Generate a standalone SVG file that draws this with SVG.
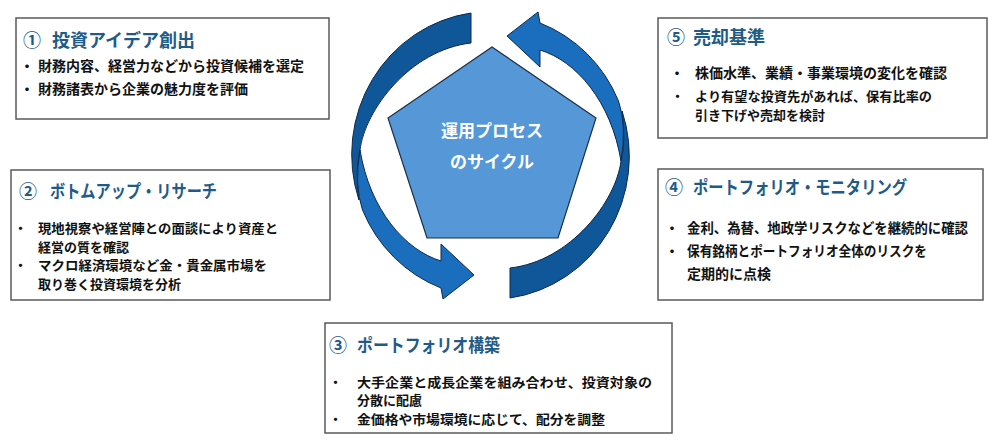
<svg xmlns="http://www.w3.org/2000/svg" xmlns:xlink="http://www.w3.org/1999/xlink" width="1000" height="444" viewBox="0 0 1000 444">
<style>
.box{fill:#fff;stroke:#5a5a5a;stroke-width:1.5}
.t{font-family:"Noto Sans CJK JP","Noto Sans CJK SC",sans-serif;font-weight:bold;font-size:18px;fill:#1f5b87}
.b{font-family:"Noto Sans CJK JP","Noto Sans CJK SC",sans-serif;font-weight:bold;font-size:14px;fill:#111}
.s{font-size:13px}
.c{font-family:"Noto Sans CJK JP","Noto Sans CJK SC",sans-serif;font-weight:bold;font-size:17px;fill:#fff;text-anchor:middle}
.dk{fill:#0f5799;stroke:#0c2a48;stroke-width:1}
.br{fill:#1b6ebd;stroke:#0c2a48;stroke-width:1}
</style>
<defs>
<g id="arrowShape">
<path class="dk" d="M471,13 A139 143 0 0 0 358.9,200 Q355,170 360,150 C365,110 410,50 471,43 Z"/>
<path class="br" d="M360,150 Q354,185 362.5,210 A139 143 0 0 0 441,288 L443,299 L474,275 L441,244 L441,261 C405,250 370,210 360,150 Z"/>
</g>
</defs>
<g id="connectors">
<use xlink:href="#arrowShape" href="#arrowShape"/>
<use xlink:href="#arrowShape" href="#arrowShape" transform="rotate(180 490.5 155.5)"/>
</g>
<g id="center">
<polygon points="492,47 596,118 558,238 427,238 388,118" fill="#5597d7" stroke="#1b2f45" stroke-width="1.2"/>
<text class="c" x="492" y="137">運用プロセス</text>
<text class="c" x="492" y="168">のサイクル</text>
</g>
<g id="node1">
<rect class="box" x="16" y="18" width="313" height="101"/>
<text class="t" x="23" y="47">①</text>
<text class="t" x="52" y="47" textLength="143" lengthAdjust="spacingAndGlyphs">投資アイデア創出</text>
<text class="b" x="20" y="71">・</text>
<text class="b" x="38" y="71">財務内容、経営力などから投資候補を選定</text>
<text class="b" x="20" y="94">・</text>
<text class="b" x="38" y="94">財務諸表から企業の魅力度を評価</text>
</g>
<g id="node2">
<rect class="box" x="11" y="170" width="319" height="130"/>
<text class="t" x="19" y="198">②</text>
<text class="t" x="50" y="198" textLength="167" lengthAdjust="spacingAndGlyphs">ボトムアップ・リサーチ</text>
<text class="b s" x="14" y="233">・</text>
<text class="b s" x="38" y="233" textLength="240" lengthAdjust="spacingAndGlyphs">現地視察や経営陣との面談により資産と</text>
<text class="b s" x="38" y="252">経営の質を確認</text>
<text class="b s" x="14" y="270">・</text>
<text class="b s" x="38" y="270" textLength="229" lengthAdjust="spacingAndGlyphs">マクロ経済環境など金・貴金属市場を</text>
<text class="b s" x="38" y="289">取り巻く投資環境を分析</text>
</g>
<g id="node3">
<rect class="box" x="325" y="323" width="347" height="110"/>
<text class="t" x="329" y="352">③</text>
<text class="t" x="357" y="352" textLength="143" lengthAdjust="spacingAndGlyphs">ポートフォリオ構築</text>
<text class="b s" x="329" y="387">・</text>
<text class="b s" x="357" y="387" textLength="295" lengthAdjust="spacingAndGlyphs">大手企業と成長企業を組み合わせ、投資対象の</text>
<text class="b s" x="357" y="405">分散に配慮</text>
<text class="b s" x="329" y="424">・</text>
<text class="b s" x="357" y="424" textLength="248" lengthAdjust="spacingAndGlyphs">金価格や市場環境に応じて、配分を調整</text>
</g>
<g id="node4">
<rect class="box" x="658" y="169" width="325" height="131"/>
<text class="t" x="665" y="194">④</text>
<text class="t" x="693" y="194" textLength="214" lengthAdjust="spacingAndGlyphs">ポートフォリオ・モニタリング</text>
<text class="b" x="665" y="233">・</text>
<text class="b" x="687" y="233" textLength="281" lengthAdjust="spacingAndGlyphs">金利、為替、地政学リスクなどを継続的に確認</text>
<text class="b" x="665" y="256">・</text>
<text class="b" x="687" y="256" textLength="240" lengthAdjust="spacingAndGlyphs">保有銘柄とポートフォリオ全体のリスクを</text>
<text class="b" x="687" y="279">定期的に点検</text>
</g>
<g id="node5">
<rect class="box" x="658" y="18" width="329" height="120"/>
<text class="t" x="667" y="44">⑤</text>
<text class="t" x="693" y="44">売却基準</text>
<text class="b" x="670" y="78">・</text>
<text class="b" x="695" y="78">株価水準、業績・事業環境の変化を確認</text>
<text class="b s" x="671" y="101">・</text>
<text class="b s" x="695" y="101" textLength="237" lengthAdjust="spacingAndGlyphs">より有望な投資先があれば、保有比率の</text>
<text class="b s" x="695" y="120">引き下げや売却を検討</text>
</g>
</svg>
